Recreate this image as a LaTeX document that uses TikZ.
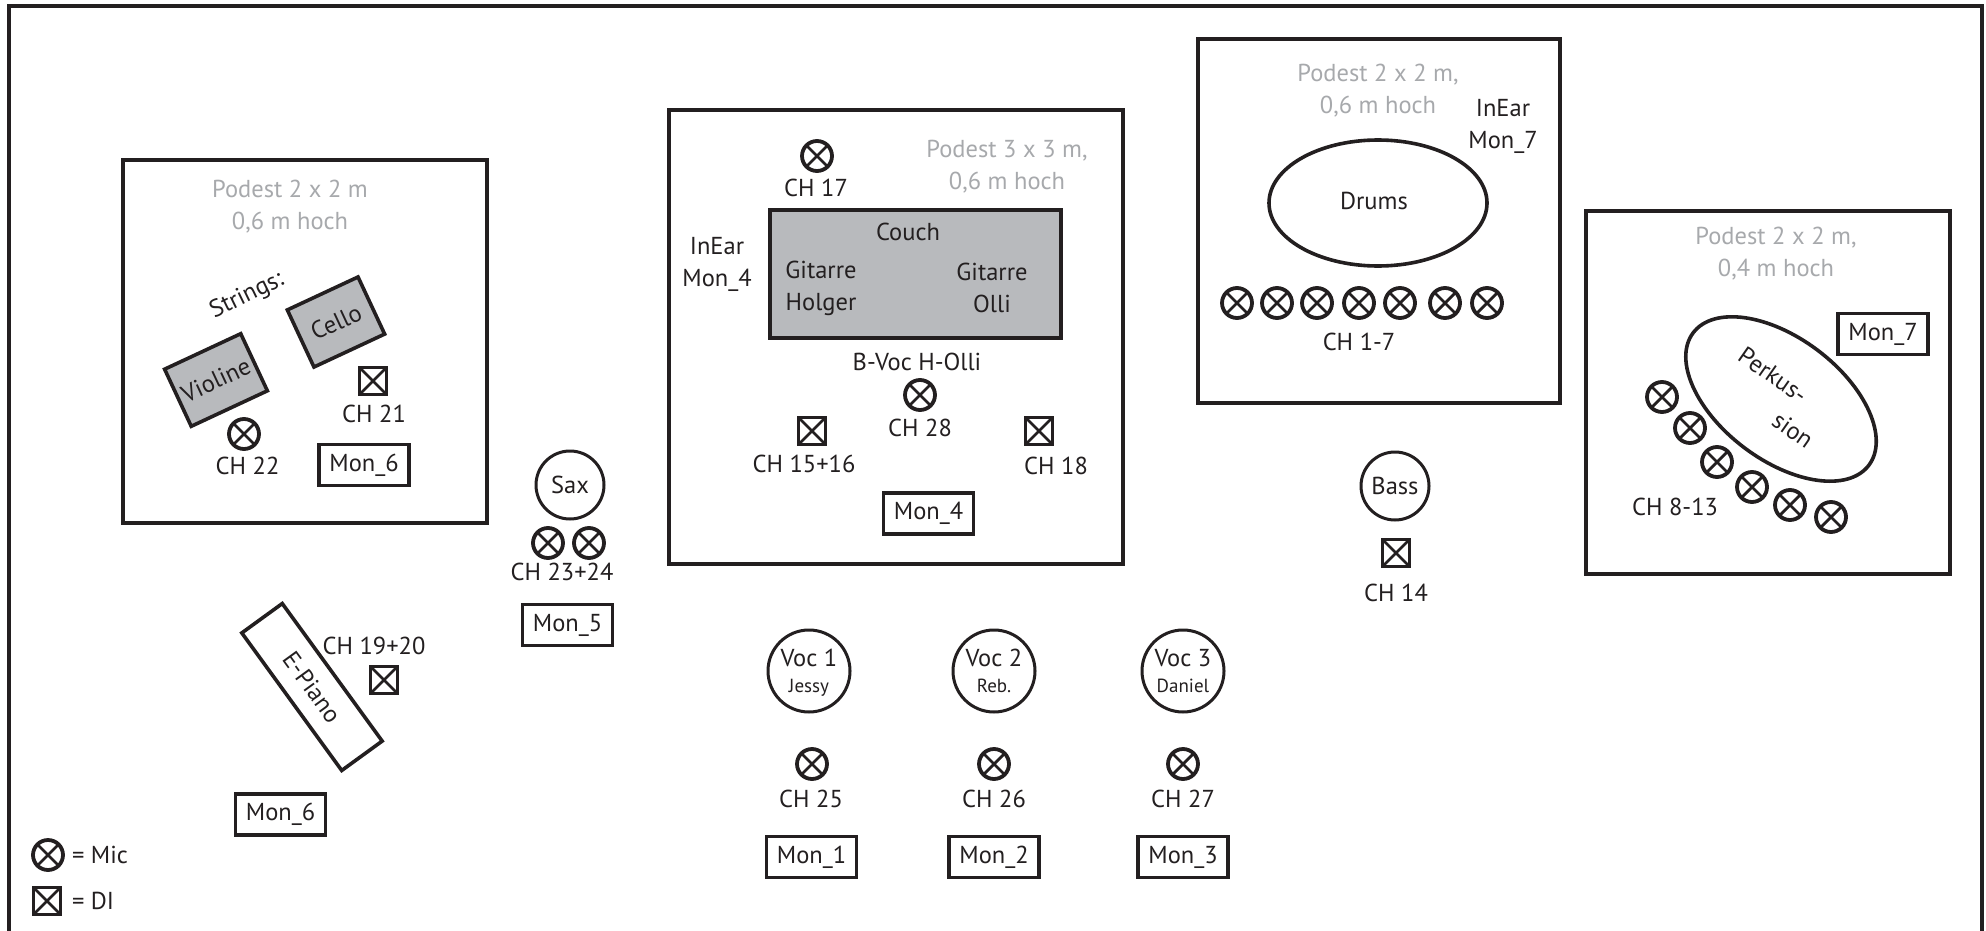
\documentclass[tikz,border=0pt]{standalone}
\usepackage{fontspec}
\setmainfont{PT Sans}
\usetikzlibrary{shapes.geometric}
\definecolor{ink}{HTML}{231F20}
\definecolor{seatgray}{HTML}{B8BABD}
\definecolor{podestgray}{HTML}{A7A9AC}
\tikzset{
  every node/.style={font=\fontsize{24.5}{32}\selectfont, text=ink, inner sep=0pt, outer sep=0pt, align=center},
  podest/.style={draw=ink, line width=4pt, minimum width=#1},
  podestlabel/.style={text=podestgray},
  monbox/.style={draw=ink, line width=3.6pt, minimum width=90pt, minimum height=41pt},
  micsym/.style={circle, draw=ink, line width=3.8pt, minimum size=30pt, path picture={
     \draw[ink, line width=2.8pt] (path picture bounding box.north west) -- (path picture bounding box.south east)
       (path picture bounding box.north east) -- (path picture bounding box.south west);}},
  disym/.style={rectangle, draw=ink, line width=3.8pt, minimum size=27pt, path picture={
     \draw[ink, line width=2.6pt] (path picture bounding box.north west) -- (path picture bounding box.south east)
       (path picture bounding box.north east) -- (path picture bounding box.south west);}},
  singer/.style={circle, draw=ink, line width=3pt, minimum size=#1},
  grayblock/.style={rectangle, draw=ink, line width=3.6pt, fill=seatgray},
}
\newcommand{\smallname}[1]{{\fontsize{19}{20}\selectfont #1}}
\begin{document}
\begin{tikzpicture}[x=1pt,y=-1pt]
\useasboundingbox (0,0) rectangle (1986,931);
\node[draw=ink, line width=4pt, minimum width=1973pt, minimum height=930pt] (frame) at (995.2,471.5) {};

% left podest
\node[podest=364pt, minimum height=363pt] (podA) at (305,341.5) {};
\node[podestlabel] (podAt) at (290,207) {Podest 2 x 2 m\\0,6 m hoch};
\node[rotate=26] (strings) at (247,296) {Strings:};
\node[grayblock, rotate=25, minimum width=78pt, minimum height=63pt] (cello) at (336,322) {Cello};
\node[grayblock, rotate=25, minimum width=84pt, minimum height=63pt] (violine) at (216,380) {Violine};
\node[disym] (di21) at (373,381) {};
\node (ch21) at (374,414) {CH 21};
\node[micsym] (mic22) at (244,434) {};
\node (ch22) at (247.5,466) {CH 22};
\node[monbox] (mon6a) at (364,465) {Mon\_6};

% sax
\node[singer=68pt] (sax) at (570,485) {Sax};
\node[micsym] (mic23) at (548,543) {};
\node[micsym] (mic24) at (589,543) {};
\node (ch23) at (562,572) {CH 23+24};
\node[monbox] (mon5) at (567.5,625) {Mon\_5};

% e-piano
\node[draw=ink, line width=3.6pt, rotate=-54, minimum width=170pt, minimum height=50pt] (epiano) at (312,687) {E-Piano};
\node (ch19) at (374,646) {CH 19+20};
\node[disym] (di19) at (384,680) {};
\node[monbox] (mon6b) at (280.5,814.5) {Mon\_6};

% legend
\node[micsym] (legmic) at (48,855) {};
\node[anchor=west] (legmict) at (72,855) {= Mic};
\node[disym] (legdi) at (47,901) {};
\node[anchor=west] (legdit) at (72,901) {= DI};

% centre podest
\node[podest=454pt, minimum height=454pt] (podB) at (896,337) {};
\node[podestlabel] (podBt) at (1007,167) {Podest 3 x 3 m,\\0,6 m hoch};
\node[micsym] (mic17) at (817,156) {};
\node (ch17) at (816,188) {CH 17};
\node[grayblock, minimum width=291pt, minimum height=128pt] (couch) at (915.5,274) {};
\node (coucht) at (908,232) {Couch};
\node (holger) at (821,288) {Gitarre\\Holger};
\node (olli) at (992,288) {Gitarre\\Olli};
\node (inear4) at (717,264) {InEar\\Mon\_4};
\node (bvoc) at (917,362) {B-Voc H-Olli};
\node[micsym] (mic28) at (920,395) {};
\node (ch28) at (920,428) {CH 28};
\node[disym] (di15) at (812,431) {};
\node (ch15) at (804,464) {CH 15+16};
\node[disym] (di18) at (1039,431) {};
\node (ch18) at (1056,466) {CH 18};
\node[monbox] (mon4) at (928.5,513.5) {Mon\_4};

% vocals
\node[singer=82pt, text depth=0pt] (voc1) at (809,671) {Voc 1\\[-6pt]\smallname{Jessy}};
\node[singer=82pt, text depth=0pt] (voc2) at (994,671) {Voc 2\\[-6pt]\smallname{Reb.}};
\node[singer=82pt, text depth=0pt] (voc3) at (1183,671) {Voc 3\\[-6pt]\smallname{Daniel}};
\node[micsym] (mic25) at (812,764) {};
\node[micsym] (mic26) at (994,764) {};
\node[micsym] (mic27) at (1183,764) {};
\node (ch25) at (811,799) {CH 25};
\node (ch26) at (994,799) {CH 26};
\node (ch27) at (1183,799) {CH 27};
\node[monbox] (mon1) at (811.5,857) {Mon\_1};
\node[monbox] (mon2) at (994,857) {Mon\_2};
\node[monbox] (mon3) at (1183,857) {Mon\_3};

% drums podest
\node[podest=362pt, minimum height=364pt] (podC) at (1379,221) {};
\node[podestlabel] (podCt) at (1378,91) {Podest 2 x 2 m,\\0,6 m hoch};
\node (inear7) at (1503,126) {InEar\\Mon\_7};
\node[ellipse, draw=ink, line width=3.6pt, minimum width=218pt, minimum height=126pt] (drums) at (1378,203) {};
\node (drumst) at (1374,201) {Drums};
\node[micsym] (m1) at (1237,303) {};
\node[micsym] (m2) at (1277,303) {};
\node[micsym] (m3) at (1317,303) {};
\node[micsym] (m4) at (1359,303) {};
\node[micsym] (m5) at (1400,303) {};
\node[micsym] (m6) at (1445,303) {};
\node[micsym] (m7) at (1487,303) {};
\node (ch1) at (1359,342) {CH 1-7};

% bass
\node[singer=68pt] (bass) at (1395,486) {Bass};
\node[disym] (di14) at (1396,553) {};
\node (ch14) at (1396,593) {CH 14};

% percussion podest
\node[podest=364pt, minimum height=363pt] (podD) at (1768,392.5) {};
\node[podestlabel] (podDt) at (1776,254) {Podest 2 x 2 m,\\0,4 m hoch};
\node[monbox] (mon7) at (1883,334) {Mon\_7};
\node[ellipse, draw=ink, line width=3.6pt, rotate=-37, minimum width=220pt, minimum height=122pt] (perk) at (1781,399) {};
\node[rotate=-35] (perkt1) at (1773,375) {Perkus-};
\node[rotate=-35] (perkt2) at (1793,430) {sion};
\node[micsym] (p1) at (1662,397) {};
\node[micsym] (p2) at (1690,428) {};
\node[micsym] (p3) at (1717,462) {};
\node[micsym] (p4) at (1752,487) {};
\node[micsym] (p5) at (1790,505) {};
\node[micsym] (p6) at (1831,517) {};
\node (ch8) at (1675,507) {CH 8-13};
\end{tikzpicture}
\end{document}
